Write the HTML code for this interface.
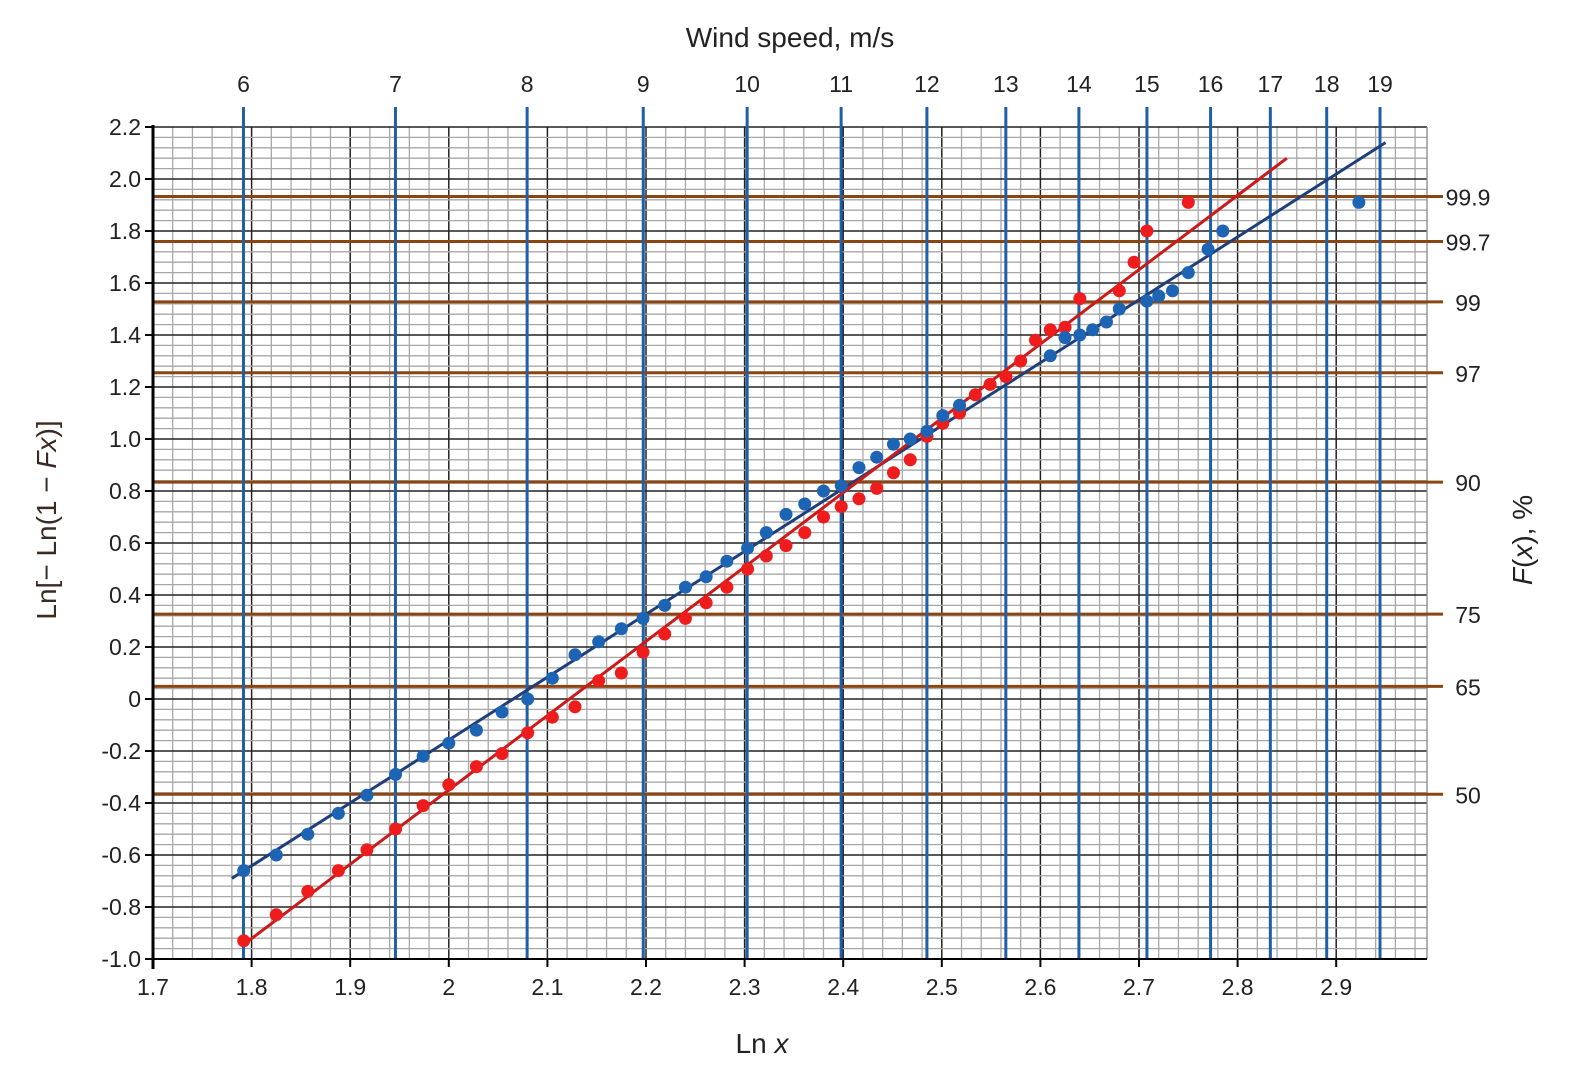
<!DOCTYPE html>
<html><head><meta charset="utf-8"><style>
html,body{margin:0;padding:0;background:#fff}
svg{display:block;font-family:"Liberation Sans",Arial,sans-serif}
</style></head><body>
<svg id="chart" width="1581" height="1084" viewBox="0 0 1581 1084"></svg>
<script>
const xTicks=[1.7,1.8,1.9,2.0,2.1,2.2,2.3,2.4,2.5,2.6,2.7,2.8,2.9];
const xTickLabels=["1.7","1.8","1.9","2","2.1","2.2","2.3","2.4","2.5","2.6","2.7","2.8","2.9"];
const yTicks=[2.2,2.0,1.8,1.6,1.4,1.2,1.0,0.8,0.6,0.4,0.2,0,-0.2,-0.4,-0.6,-0.8,-1.0];
const yTickLabels=["2.2","2.0","1.8","1.6","1.4","1.2","1.0","0.8","0.6","0.4","0.2","0","-0.2","-0.4","-0.6","-0.8","-1.0"];
const windSpeeds=[6,7,8,9,10,11,12,13,14,15,16,17,18,19];
const probLevels=[99.9,99.7,99,97,90,75,65,50];
const blueX=[1.792,1.825,1.857,1.888,1.917,1.946,1.974,2.0,2.028,2.054,2.08,2.105,2.128,2.152,2.175,2.197,2.219,2.24,2.261,2.282,2.303,2.322,2.342,2.361,2.38,2.398,2.416,2.434,2.451,2.468,2.485,2.501,2.518,2.61,2.625,2.64,2.653,2.667,2.68,2.708,2.72,2.734,2.75,2.77,2.785,2.923];
const blueY=[-0.66,-0.60,-0.52,-0.44,-0.37,-0.29,-0.22,-0.17,-0.12,-0.05,0.0,0.08,0.17,0.22,0.27,0.31,0.36,0.43,0.47,0.53,0.58,0.64,0.71,0.75,0.80,0.82,0.89,0.93,0.98,1.00,1.03,1.09,1.13,1.32,1.39,1.40,1.42,1.45,1.50,1.53,1.55,1.57,1.64,1.73,1.80,1.91];
const redX=[1.792,1.825,1.857,1.888,1.917,1.946,1.974,2.0,2.028,2.054,2.08,2.105,2.128,2.152,2.175,2.197,2.219,2.24,2.261,2.282,2.303,2.322,2.342,2.361,2.38,2.398,2.416,2.434,2.451,2.468,2.485,2.501,2.518,2.534,2.549,2.565,2.58,2.595,2.61,2.625,2.64,2.68,2.695,2.708,2.75];
const redY=[-0.93,-0.83,-0.74,-0.66,-0.58,-0.50,-0.41,-0.33,-0.26,-0.21,-0.13,-0.07,-0.03,0.07,0.10,0.18,0.25,0.31,0.37,0.43,0.50,0.55,0.59,0.64,0.70,0.74,0.77,0.81,0.87,0.92,1.01,1.06,1.10,1.17,1.21,1.24,1.30,1.38,1.42,1.43,1.54,1.57,1.68,1.80,1.91];
const blueFitX=[1.78,2.95];const blueFitY=[-0.69,2.14];
const redFitX=[1.79,2.85];const redFitY=[-0.95,2.08];

const X0=153,X1=1427,Y0=127,Y1=959;
const sx=v=>X0+(v-1.7)*986;
const sy=v=>Y1-(v+1.0)*(Y1-Y0)/3.2;
const svg=document.getElementById('chart');
const NS='http://www.w3.org/2000/svg';
function mk(tag,at,parent){const e=document.createElementNS(NS,tag);for(const k in at)e.setAttribute(k,at[k]);(parent||svg).appendChild(e);return e;}

// minor grid
const g=mk('g',{});


for(let i=0;;i++){const v=1.7+i*0.02;const x=sx(v);if(x>X1+0.5)break;const major=i%5===0;
 const l=mk('line',{x1:x,x2:x,y1:Y0,y2:Y1,stroke:major?'#222':'#a8a8a8','stroke-width':major?1.5:1.3},g);}
for(let i=0;i<=80;i++){const v=-1.0+i*0.04;const y=sy(v);const major=i%5===0;
 mk('line',{x1:X0,x2:X1,y1:y,y2:y,stroke:major?'#222':'#a8a8a8','stroke-width':major?1.5:1.3},g);}
mk('line',{x1:X1,x2:X1,y1:Y0,y2:Y1,stroke:'#888','stroke-width':1.3},g);

// brown probability lines
probLevels.forEach(p=>{const y=sy(Math.log(-Math.log(1-p/100)));
 const l=mk('line',{x1:X0,x2:1443,y1:y,y2:y,stroke:'#8b4513','stroke-width':3});
 
 
 const t=mk('text',{x:1468,y:y+9,'font-size':23,fill:'#222','text-anchor':'middle'});t.textContent=String(p);
 
 
});
// blue wind speed lines
windSpeeds.forEach(w=>{const x=sx(Math.log(w));
 const l=mk('line',{x1:x,x2:x,y1:107,y2:Y1,stroke:'#1f5fa8','stroke-width':3});
 
 
 const t=mk('text',{x:x,y:92,'font-size':23,fill:'#222','text-anchor':'middle'});t.textContent=String(w);
 
 
});
// axes
mk('line',{x1:X0,x2:X0,y1:Y0-2,y2:Y1+10,stroke:'#000','stroke-width':3});
mk('line',{x1:X0-2,x2:X1,y1:Y1,y2:Y1,stroke:'#000','stroke-width':2});
yTicks.forEach((v,i)=>{const y=sy(v);mk('line',{x1:X0-8,x2:X0,y1:y,y2:y,stroke:'#000','stroke-width':2});
 const t=mk('text',{x:X0-12,y:y+8,'font-size':23,fill:'#222','text-anchor':'end'});t.textContent=yTickLabels[i];
 
 });
xTicks.forEach((v,i)=>{const x=sx(v);mk('line',{x1:x,x2:x,y1:Y1,y2:Y1+8,stroke:'#000','stroke-width':2});
 const t=mk('text',{x:x,y:Y1+36,'font-size':23,fill:'#222','text-anchor':'middle'});t.textContent=xTickLabels[i];
 
 });

// fit lines
const bl=mk('line',{x1:sx(blueFitX[0]),y1:sy(blueFitY[0]),x2:sx(blueFitX[1]),y2:sy(blueFitY[1]),stroke:'#1f3f7a','stroke-width':3});


const rl=mk('line',{x1:sx(redFitX[0]),y1:sy(redFitY[0]),x2:sx(redFitX[1]),y2:sy(redFitY[1]),stroke:'#cc1a1a','stroke-width':3});


// points
redX.forEach((v,i)=>{const c=mk('circle',{cx:sx(v),cy:sy(redY[i]),r:6.5,fill:'#ee1c1c'});
 
 });
blueX.forEach((v,i)=>{const c=mk('circle',{cx:sx(v),cy:sy(blueY[i]),r:6.5,fill:'#1e64b4'});
 
 });

// titles
let t=mk('text',{x:790,y:47,'font-size':28,fill:'#222','text-anchor':'middle'});t.textContent='Wind speed, m/s';


t=mk('text',{x:762,y:1053,'font-size':28,fill:'#222','text-anchor':'middle'});t.innerHTML='Ln <tspan font-style="italic">x</tspan>';


t=mk('text',{x:0,y:0,'font-size':28,fill:'#3a2a20','text-anchor':'middle',transform:'translate(56,520) rotate(-90)'});t.innerHTML='Ln[− Ln(1 − <tspan font-style="italic">Fx</tspan>)]';


t=mk('text',{x:0,y:0,'font-size':28,fill:'#222','text-anchor':'middle',transform:'translate(1532,540) rotate(-90)'});t.innerHTML='<tspan font-style="italic">F</tspan>(<tspan font-style="italic">x</tspan>), %';


</script>
</body></html>
